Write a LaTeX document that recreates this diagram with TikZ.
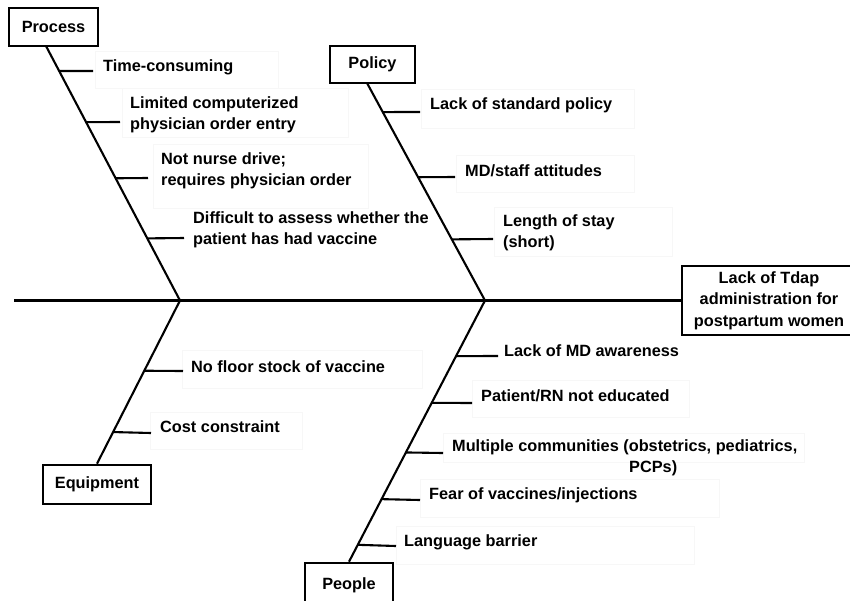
\documentclass[tikz,border=0pt]{standalone}
\usepackage{fontspec}
\setmainfont{Liberation Sans}
\usetikzlibrary{calc}
\begin{document}
\begin{tikzpicture}[x=1pt,y=-1pt,
  bone/.style={line width=2.1pt},
  tickline/.style={line width=2.1pt},
  catbox/.style={draw,line width=2.6pt,inner sep=0pt,font=\bfseries\fontsize{16.3}{20.5}\selectfont},
  lbl/.style={anchor=west,inner sep=0pt,align=left,font=\bfseries\fontsize{16.3}{20.8}\selectfont},
  faint/.style={draw=black!3,line width=0.7pt}]
\useasboundingbox (0,0) rectangle (850,600);

% faint text frames
\draw[faint] (95,51) rectangle (278,88);
\draw[faint] (122,88) rectangle (348,137);
\draw[faint] (153,144) rectangle (368,208);
\draw[faint] (421,89) rectangle (634,128);
\draw[faint] (456,155) rectangle (634,192);
\draw[faint] (494,207) rectangle (672,256);
\draw[faint] (182,350) rectangle (422,388);
\draw[faint] (150,412) rectangle (302,449);
\draw[faint] (472,380) rectangle (689,417);
\draw[faint] (443,433) rectangle (804,462);
\draw[faint] (420,479) rectangle (719,517);
\draw[faint] (396,526) rectangle (694,564);

% category boxes and effect
\node[catbox,minimum width=89pt,minimum height=38pt] (P) at (53.5,27) {Process};
\node[catbox,minimum width=85pt,minimum height=37pt] (Po) at (372.5,64.5) {Policy};
\node[catbox,minimum width=108pt,minimum height=39pt] (Eq) at (97,484.5) {Equipment};
\node[catbox,minimum width=88pt,minimum height=44pt] (Pe) at (349,585) {People};
\node[catbox,minimum width=174pt,minimum height=69pt,align=center,font=\bfseries\fontsize{16.3}{21.5}\selectfont] (E) at (769,300.5) {Lack of Tdap\\administration for\\postpartum women};

% spine
\coordinate (tail) at (14,300.5);
\coordinate (J1) at (180,300.5);
\coordinate (J2) at (485,300.5);
\draw[bone] (tail) -- (E.west);

% bones
\coordinate (pa) at (46,46);
\coordinate (pb) at (367,83);
\draw[bone] (pa) -- (J1);
\draw[bone] (pb) -- (J2);
\draw[bone] (J1) -- (Eq.north);
\draw[bone] (J2) -- (Pe.north);

% labels
\node[lbl] (a1) at (103,67) {Time-consuming};
\node[lbl] (a2) at (130,114.5) {Limited computerized\\physician order entry};
\node[lbl] (a3) at (161,170.5) {Not nurse drive;\\requires physician order};
\node[lbl] (a4) at (193,230) {Difficult to assess whether the\\patient has had vaccine};
\node[lbl] (b1) at (430,105) {Lack of standard policy};
\node[lbl] (b2) at (465,171) {MD/staff attitudes};
\node[lbl] (b3) at (503,233) {Length of stay\\(short)};
\node[lbl] (c1) at (191,367) {No floor stock of vaccine};
\node[lbl] (c2) at (160,427) {Cost constraint};
\node[lbl] (d1) at (504,351) {Lack of MD awareness};
\node[lbl] (d2) at (481,396) {Patient/RN not educated};
\node[lbl] (d3) at (452,458) {Multiple communities (obstetrics, pediatrics,\\\hspace*{177pt}PCPs)};
\node[lbl] (d4) at (429,495) {Fear of vaccines/injections};
\node[lbl] (d5) at (404,542) {Language barrier};

% tick ends
\coordinate (ka1) at (93,71);
\coordinate (ka2) at (120,122);
\coordinate (ka3) at (148,178);
\coordinate (ka4) at (184,238);
\coordinate (kb1) at (420,112);
\coordinate (kb2) at (455,177);
\coordinate (kb3) at (493,239);
\coordinate (kc1) at (183,371);
\coordinate (kc2) at (151,433);
\coordinate (kd1) at (498,356);
\coordinate (kd2) at (472,403);
\coordinate (kd3) at (443,453);
\coordinate (kd4) at (420,500);
\coordinate (kd5) at (396,546);

% ticks
\draw[tickline] ($(pa)!{25/254}!(J1)$) -- (ka1);
\draw[tickline] ($(pa)!{76/254}!(J1)$) -- (ka2);
\draw[tickline] ($(pa)!{132/254}!(J1)$) -- (ka3);
\draw[tickline] ($(pa)!{192/254}!(J1)$) -- (ka4);
\draw[tickline] ($(pb)!{29/217}!(J2)$) -- (kb1);
\draw[tickline] ($(pb)!{94/217}!(J2)$) -- (kb2);
\draw[tickline] ($(pb)!{156/217}!(J2)$) -- (kb3);
\draw[tickline] ($(J1)!{71/165}!(Eq.north)$) -- (kc1);
\draw[tickline] ($(J1)!{133/165}!(Eq.north)$) -- (kc2);
\draw[tickline] ($(J2)!{56/263}!(Pe.north)$) -- (kd1);
\draw[tickline] ($(J2)!{103/263}!(Pe.north)$) -- (kd2);
\draw[tickline] ($(J2)!{153/263}!(Pe.north)$) -- (kd3);
\draw[tickline] ($(J2)!{200/263}!(Pe.north)$) -- (kd4);
\draw[tickline] ($(J2)!{246/263}!(Pe.north)$) -- (kd5);
\end{tikzpicture}
\end{document}
